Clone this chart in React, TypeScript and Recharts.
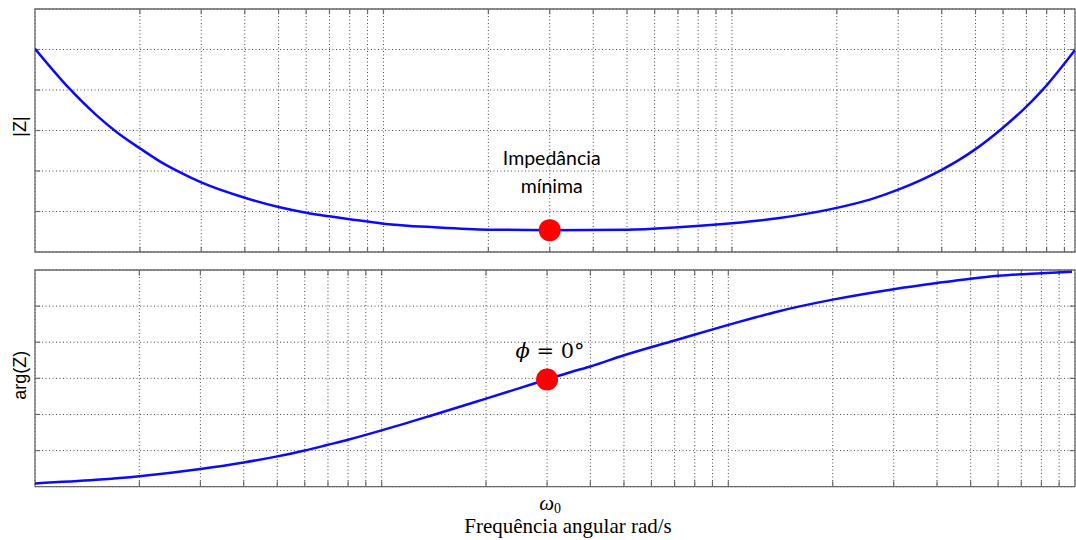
import React from "react";
import {
  LineChart,
  Line,
  XAxis,
  YAxis,
  CartesianGrid,
  ReferenceDot,
  ReferenceArea,
  ReferenceLine,
  Label,
} from "recharts";

// ---------- data ----------
const OMEGA0 = 30;

const magFreq = [1, 1.26, 1.5, 1.71, 2, 2.3, 2.55, 3, 4, 5, 6, 7, 8, 10, 14, 20, 30, 50, 70, 100, 137, 200, 250, 300, 400, 450, 500, 590, 700, 780, 965];
const magValues = [5.02, 4.02, 3.38, 2.97, 2.56, 2.22, 2.01, 1.72, 1.34, 1.11, 0.97, 0.88, 0.81, 0.7, 0.61, 0.55, 0.54, 0.55, 0.61, 0.71, 0.84, 1.09, 1.3, 1.54, 2.03, 2.28, 2.54, 3.02, 3.59, 4.01, 4.99];

const phaseFreq = [1, 1.5, 2, 3, 4, 5, 6, 7, 8, 10, 14, 20, 25, 30, 35, 40, 50, 70, 100, 120, 140, 200, 300, 400, 500, 600, 800, 980];
const phaseValues = [0.09, 0.19, 0.29, 0.49, 0.67, 0.84, 1.0, 1.16, 1.3, 1.56, 1.98, 2.44, 2.73, 2.97, 3.17, 3.33, 3.64, 4.05, 4.48, 4.69, 4.86, 5.18, 5.47, 5.64, 5.76, 5.84, 5.91, 5.95];

const MAG_MIN = 0.54;
const PHASE_AT_W0 = 2.97;

const topDomain: [number, number] = [1, 965];
const bottomDomain: [number, number] = [1, 1000];
const yDomain: [number, number] = [0, 6];
const yTicks = [0, 1, 2, 3, 4, 5, 6];
const gridFreqs = [1, 2, 3, 4, 5, 6, 7, 8, 9, 10, 20, 30, 40, 50, 60, 70, 80, 90, 100, 200, 300, 400, 500, 600, 700, 800, 900, 1000];

const magData = magFreq.map((w, i) => ({ w, v: magValues[i] }));
const phaseData = phaseFreq.map((w, i) => ({ w, v: phaseValues[i] }));

// ---------- styles ----------
const BLUE = "#0a0aff";
const FRAME = "#6a6a6a";
const GRID = "#4a4a4a";

function frameTicks(domain: [number, number], yLen: number, xFactor: number, prefix: string) {
  const [x0, x1] = domain;
  const xs = gridFreqs.filter((w) => w > x0 && w < x1);
  const out: React.ReactNode[] = [];
  xs.forEach((w) => {
    out.push(
      <ReferenceLine key={`${prefix}b${w}`} segment={[{ x: w, y: yDomain[0] }, { x: w, y: yDomain[0] + yLen }]} stroke={FRAME} strokeWidth={1.2} />
    );
    out.push(
      <ReferenceLine key={`${prefix}t${w}`} segment={[{ x: w, y: yDomain[1] }, { x: w, y: yDomain[1] - yLen }]} stroke={FRAME} strokeWidth={1.2} />
    );
  });
  yTicks.slice(1, -1).forEach((v) => {
    out.push(
      <ReferenceLine key={`${prefix}l${v}`} segment={[{ x: x0, y: v }, { x: x0 * xFactor, y: v }]} stroke={FRAME} strokeWidth={1.2} />
    );
    out.push(
      <ReferenceLine key={`${prefix}r${v}`} segment={[{ x: x1, y: v }, { x: x1 / xFactor, y: v }]} stroke={FRAME} strokeWidth={1.2} />
    );
  });
  return out;
}

const NoTick = () => <g />;

const OmegaTick = (props: any) => {
  const { x, y, payload } = props;
  if (payload.value !== OMEGA0) return <g />;
  return (
    <text x={x + 3} y={y} textAnchor="middle" fontFamily="'Liberation Serif', 'DejaVu Serif', serif" fill="#000">
      <tspan fontStyle="italic" fontSize={21} dy={23}>ω</tspan>
      <tspan fontSize={14} dy={3}>0</tspan>
    </text>
  );
};

const MinLabel = (props: any) => {
  const vb = props.viewBox || {};
  const cx = vb.x + (vb.width || 0) / 2;
  const cy = vb.y + (vb.height || 0) / 2;
  return (
    <g fontFamily="Lato, 'Open Sans', sans-serif" fontSize={19.5} fill="#000" textAnchor="middle">
      <text x={cx + 2} y={cy - 65}>Impedância</text>
      <text x={cx + 2} y={cy - 37}>mínima</text>
    </g>
  );
};

const PhiLabel = (props: any) => {
  const vb = props.viewBox || {};
  const cx = vb.x + (vb.width || 0) / 2;
  const cy = vb.y + (vb.height || 0) / 2;
  return (
    <text x={cx + 3} y={cy - 21} textAnchor="middle" fontFamily="'DejaVu Serif', 'Liberation Serif', serif" fontSize={21} fill="#000">
      <tspan fontStyle="italic">ϕ</tspan>
      <tspan> = 0°</tspan>
    </text>
  );
};

export default function App() {
  return (
    <div style={{ position: "absolute", left: 0, top: 0, width: 1076, height: 540, background: "#fff" }}>
      <div style={{ position: "absolute", left: 0, top: 0 }}>
        <LineChart width={1076} height={260} data={magData} margin={{ top: 9, right: 1, bottom: 7, left: 0 }}>
          <CartesianGrid stroke={GRID} strokeDasharray="1 2.5" strokeWidth={1} />
          <XAxis
            dataKey="w"
            type="number"
            scale="log"
            domain={topDomain}
            allowDataOverflow
            ticks={gridFreqs.filter((w) => w <= topDomain[1])}
            interval={0}
            height={1}
            tick={<NoTick />}
            tickLine={false}
            axisLine={false}
            tickSize={0}
          />
          <YAxis type="number" domain={yDomain} ticks={yTicks} interval={0} width={35} tick={<NoTick />} tickLine={false} axisLine={false} tickSize={0}>
            <Label value="|Z|" angle={-90} position="center" dx={2} dy={-4} style={{ fontFamily: "'Liberation Sans', Arial, sans-serif", fontSize: 18, fill: "#000" }} />
          </YAxis>
          <ReferenceArea x1={topDomain[0]} x2={topDomain[1]} y1={yDomain[0]} y2={yDomain[1]} fill="none" stroke={FRAME} strokeWidth={1.3} />
          {frameTicks(topDomain, 0.13, 1.035, "t")}
          <Line dataKey="v" type="monotone" stroke={BLUE} strokeWidth={2.5} dot={false} isAnimationActive={false} />
          <ReferenceDot x={OMEGA0} y={MAG_MIN} r={11} fill="#ff0000" stroke="none" label={<MinLabel />} />
        </LineChart>
      </div>
      <div style={{ position: "absolute", left: 0, top: 0 }}>
        <LineChart width={1076} height={540} data={phaseData} margin={{ top: 270, right: 1, bottom: 0, left: 0 }}>
          <CartesianGrid stroke={GRID} strokeDasharray="1 2.5" strokeWidth={1} />
          <XAxis
            dataKey="w"
            type="number"
            scale="log"
            domain={bottomDomain}
            allowDataOverflow
            ticks={gridFreqs}
            interval={0}
            height={53.3}
            tick={<OmegaTick />}
            tickLine={false}
            axisLine={false}
            tickMargin={0}
            tickSize={0}
          >
            <Label
              value="Frequência angular rad/s"
              position="insideBottom"
              offset={7}
              dx={13}
              style={{ fontFamily: "'Liberation Serif', 'Times New Roman', serif", fontSize: 21, fill: "#000" }}
            />
          </XAxis>
          <YAxis type="number" domain={yDomain} ticks={yTicks} interval={0} width={35} tick={<NoTick />} tickLine={false} axisLine={false} tickSize={0}>
            <Label value="arg(Z)" angle={-90} position="center" dx={2} dy={-3} style={{ fontFamily: "'Liberation Sans', Arial, sans-serif", fontSize: 18, fill: "#000" }} />
          </YAxis>
          <ReferenceArea x1={bottomDomain[0]} x2={bottomDomain[1]} y1={yDomain[0]} y2={yDomain[1]} fill="none" stroke={FRAME} strokeWidth={1.3} />
          {frameTicks(bottomDomain, 0.15, 1.035, "b")}
          <Line dataKey="v" type="monotone" stroke={BLUE} strokeWidth={2.5} dot={false} isAnimationActive={false} />
          <ReferenceDot x={OMEGA0} y={PHASE_AT_W0} r={11} fill="#ff0000" stroke="none" label={<PhiLabel />} />
        </LineChart>
      </div>
    </div>
  );
}
